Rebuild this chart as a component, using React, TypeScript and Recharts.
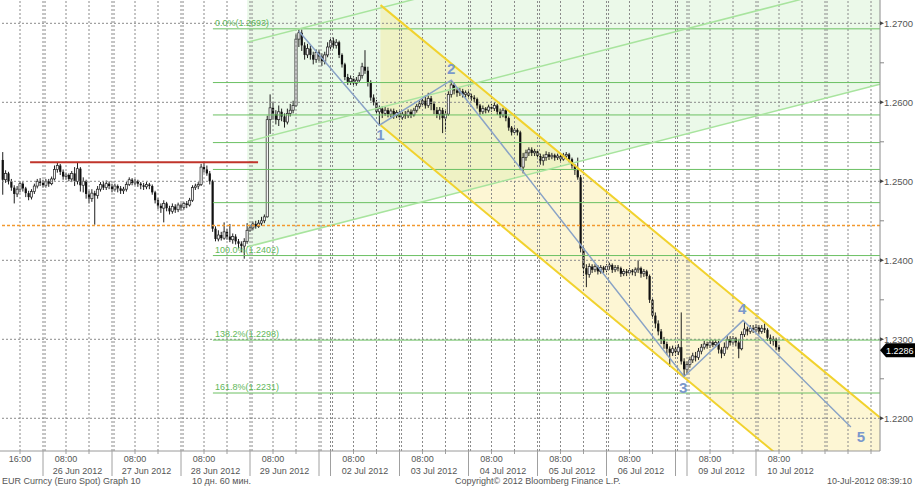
import React from "react";
import { ComposedChart, XAxis, YAxis, Bar, Line, Area, ReferenceLine, LabelList } from "recharts";

// EUR/USD (EUR Curncy) hourly candles, 25 Jun - 10 Jul 2012.
// Prices are pips above 1.2000 (524 -> 1.2524); each bar is [open, high, low, close].
// x is a trading-hour index: 0 = 26 Jun 00:00, weekends squeezed out (Sunday evening session kept).

const JUN25 = [
  [527, 537, 483, 502], [502, 514, 498, 510], [510, 512, 496, 500], [500, 503, 488, 492],
  [492, 495, 472, 484], [484, 494, 480, 490], [490, 500, 486, 497], [497, 499, 487, 491],
  [491, 493, 480, 485], [485, 488, 476, 480], [480, 490, 477, 487], [487, 497, 484, 494],
  [494, 503, 491, 500], [500, 504, 494, 498],
];
const JUN26 = [
  [498, 502, 492, 495], [495, 503, 492, 500], [500, 503, 493, 497], [497, 506, 495, 503],
  [503, 520, 501, 515], [515, 524, 511, 520], [520, 522, 508, 512], [512, 515, 502, 506],
  [506, 511, 502, 508], [508, 510, 500, 503], [503, 513, 499, 510], [510, 518, 494, 500],
  [500, 524, 496, 516], [516, 518, 487, 495], [495, 505, 486, 500], [500, 502, 478, 484],
  [484, 488, 472, 478], [478, 490, 474, 485], [485, 488, 445, 482], [482, 494, 478, 490],
  [490, 499, 487, 496], [496, 500, 489, 492], [492, 501, 489, 497], [497, 500, 490, 494],
];
const JUN27 = [
  [494, 497, 486, 490], [490, 497, 487, 494], [494, 496, 486, 491], [491, 494, 484, 488],
  [488, 493, 484, 490], [490, 499, 487, 496], [496, 505, 494, 502], [502, 504, 495, 498],
  [498, 503, 495, 500], [500, 502, 493, 497], [497, 499, 490, 495], [495, 498, 489, 493],
  [493, 499, 490, 496], [496, 498, 490, 494], [494, 496, 483, 486], [486, 488, 472, 476],
  [476, 479, 465, 469], [469, 472, 460, 466], [466, 476, 448, 472], [472, 474, 462, 466],
  [466, 469, 458, 462], [462, 472, 459, 468], [468, 471, 460, 464], [464, 473, 461, 470],
];
const JUN28 = [
  [470, 472, 463, 467], [467, 474, 464, 472], [472, 475, 466, 470], [470, 479, 468, 476],
  [476, 495, 474, 492], [492, 497, 489, 494], [494, 499, 490, 496], [496, 522, 494, 518],
  [518, 524, 511, 515], [515, 520, 507, 510], [510, 513, 496, 500], [500, 502, 436, 440],
  [440, 443, 424, 427], [427, 438, 424, 432], [432, 436, 425, 428], [428, 448, 426, 436],
  [436, 440, 426, 430], [430, 446, 423, 426], [426, 434, 421, 430], [430, 433, 420, 424],
  [424, 427, 415, 421], [421, 424, 410, 418], [418, 428, 402, 424], [424, 447, 421, 438],
];
const JUN29 = [
  [438, 445, 436, 441], [441, 449, 438, 446], [446, 450, 440, 443], [443, 451, 441, 447],
  [447, 455, 444, 450], [450, 458, 447, 455], [455, 583, 454, 578], [578, 610, 560, 593],
  [593, 600, 578, 585], [585, 590, 572, 578], [578, 596, 570, 588], [588, 592, 576, 582],
  [582, 586, 568, 575], [575, 592, 572, 586], [586, 598, 582, 590], [590, 602, 586, 596],
  [596, 686, 594, 680], [680, 693, 670, 688], [688, 692, 665, 672], [672, 676, 654, 660],
  [660, 674, 656, 668], [668, 672, 654, 660], [660, 664, 648, 654], [654, 667, 650, 663],
];
const JUL01_SUN = [
  [663, 666, 652, 658], [658, 662, 646, 652], [652, 664, 648, 660], [660, 676, 657, 670],
];
const JUL02 = [
  [670, 682, 667, 678], [678, 682, 668, 672], [672, 680, 668, 676], [676, 678, 656, 660],
  [660, 662, 644, 648], [648, 650, 628, 632], [632, 636, 622, 626], [626, 634, 622, 630],
  [630, 633, 620, 624], [624, 632, 621, 628], [628, 638, 625, 634], [634, 650, 630, 645],
  [645, 666, 636, 640], [640, 645, 620, 625], [625, 628, 602, 606], [606, 610, 596, 600],
  [600, 603, 584, 588], [588, 596, 571, 592], [592, 595, 580, 586], [586, 594, 583, 590],
  [590, 593, 581, 585], [585, 592, 581, 589], [589, 592, 579, 583], [583, 590, 580, 587],
];
const JUL03 = [
  [587, 590, 578, 581], [581, 588, 578, 585], [585, 589, 579, 583], [583, 591, 580, 588],
  [588, 591, 580, 584], [584, 593, 582, 590], [590, 598, 587, 595], [595, 602, 592, 598],
  [598, 606, 595, 602], [602, 609, 592, 596], [596, 612, 593, 605], [605, 608, 590, 598],
  [598, 601, 585, 590], [590, 594, 580, 585], [585, 594, 578, 590], [590, 593, 561, 580],
  [580, 590, 563, 585], [585, 614, 583, 610], [610, 628, 606, 622], [622, 625, 610, 615],
  [615, 618, 607, 612], [612, 618, 608, 614], [614, 617, 606, 610], [610, 615, 606, 612],
];
const JUL04 = [
  [612, 614, 604, 608], [608, 611, 602, 606], [606, 609, 600, 604], [604, 606, 592, 596],
  [596, 598, 584, 588], [588, 596, 585, 592], [592, 594, 586, 590], [590, 597, 587, 594],
  [594, 598, 588, 592], [592, 600, 589, 596], [596, 598, 584, 588], [588, 592, 580, 584],
  [584, 593, 581, 590], [590, 592, 576, 580], [580, 582, 564, 568], [568, 570, 558, 562],
  [562, 568, 559, 565], [565, 567, 558, 562], [562, 564, 514, 518], [518, 536, 510, 530],
  [530, 540, 526, 536], [536, 543, 532, 540], [540, 543, 532, 536], [536, 541, 532, 538],
];
const JUL05 = [
  [538, 540, 528, 532], [532, 535, 521, 526], [526, 534, 520, 530], [530, 538, 526, 534],
  [534, 537, 527, 531], [531, 536, 528, 533], [533, 535, 526, 530], [530, 535, 527, 532],
  [532, 534, 524, 528], [528, 536, 526, 532], [532, 537, 529, 534], [534, 536, 524, 528],
  [528, 530, 516, 520], [520, 522, 508, 514], [514, 530, 502, 505], [505, 508, 410, 415],
  [415, 418, 380, 390], [390, 395, 366, 382], [382, 396, 378, 392], [392, 395, 384, 388],
  [388, 395, 385, 392], [392, 394, 382, 386], [386, 394, 383, 391], [391, 393, 384, 388],
];
const JUL06 = [
  [388, 395, 385, 392], [392, 397, 388, 394], [394, 396, 384, 388], [388, 394, 385, 391],
  [391, 394, 386, 390], [390, 392, 379, 383], [383, 389, 380, 386], [386, 389, 380, 384],
  [384, 390, 381, 387], [387, 389, 381, 385], [385, 391, 380, 388], [388, 400, 384, 390],
  [390, 392, 378, 383], [383, 389, 379, 386], [386, 388, 376, 380], [380, 382, 346, 350],
  [350, 352, 326, 330], [330, 334, 314, 320], [320, 324, 305, 310], [310, 313, 294, 300],
  [300, 303, 288, 294], [294, 297, 280, 288], [288, 291, 265, 283], [283, 292, 279, 288],
];
const JUL08_SUN = [
  [288, 291, 279, 284], [284, 294, 280, 290], [290, 334, 268, 272], [272, 276, 253, 262],
];
const JUL09 = [
  [262, 272, 256, 268], [268, 278, 264, 274], [274, 283, 270, 279], [279, 284, 272, 277],
  [277, 289, 274, 285], [285, 294, 281, 290], [290, 298, 287, 294], [294, 297, 288, 292],
  [292, 299, 289, 296], [296, 299, 290, 293], [293, 299, 290, 296], [296, 298, 282, 287],
  [287, 290, 276, 282], [282, 296, 279, 290], [290, 304, 287, 300], [300, 304, 292, 296],
  [296, 304, 293, 301], [301, 303, 291, 296], [296, 299, 276, 288], [288, 310, 286, 306],
  [306, 322, 303, 313], [313, 316, 305, 310], [310, 318, 307, 314], [314, 318, 308, 312],
];
const JUL10 = [
  [312, 319, 309, 315], [315, 318, 306, 310], [310, 318, 307, 314], [314, 320, 308, 312],
  [312, 314, 298, 302], [302, 306, 294, 298], [298, 304, 292, 300], [300, 302, 286, 290],
  [290, 293, 284, 286],
];

// first hour index of each block of bars
const SESSIONS: [number, number[][]][] = [
  [-14, JUN25], [0, JUN26], [24, JUN27], [48, JUN28], [72, JUN29], [96, JUL01_SUN],
  [100, JUL02], [124, JUL03], [148, JUL04], [172, JUL05], [196, JUL06], [220, JUL08_SUN],
  [224, JUL09], [248, JUL10],
];

// Elliott wave count drawn on the chart
const WAVE = [
  { h: 89, p: 690, tag: "" },
  { h: 117, p: 571, tag: "1" },
  { h: 142, p: 628, tag: "2" },
  { h: 223, p: 253, tag: "3" },
  { h: 243.5, p: 324, tag: "4" },
  { h: 281, p: 189, tag: "5" },
];

// Fibonacci levels (start hour 59, running to the right edge)
const FIB_LEVELS = [625, 584, 549, 515, 473];
const FIB_LABELLED = [
  { p: 693, text: "0.0%(1.2693)" },
  { p: 406, text: "100.0%(1.2402)" },
  { p: 299, text: "138.2%(1.2298)" },
  { p: 232, text: "161.8%(1.2231)" },
];

// descending yellow channel
const YELLOW_UPPER = [{ h: 117.4, p: 723 }, { h: 291.1, p: 201 }];
const YELLOW_LOWER = [{ h: 117.4, p: 571 }, { h: 291.1, p: 46 }];
// rising green lines
const GREEN_LOW = [{ h: 71, p: 417 }, { h: 291.1, p: 623 }];
const GREEN_MID = [{ h: 71, p: 550 }, { h: 291.1, p: 756 }];
const GREEN_TOP = [{ h: 71, p: 676 }, { h: 291.1, p: 882 }];

const RED_LEVEL = [{ h: -4.5, p: 524 }, { h: 74.8, p: 524 }];
const ORANGE_LEVEL = 444;
const LAST_PRICE = 286;

const Y_MAJOR = [200, 300, 400, 500, 600, 700];
const Y_MINOR = [250, 350, 450, 550, 650];

const DAY_LABELS = [
  { start: 0, text: "26 Jun 2012" }, { start: 24, text: "27 Jun 2012" },
  { start: 48, text: "28 Jun 2012" }, { start: 72, text: "29 Jun 2012" },
  { start: 100, text: "02 Jul 2012" }, { start: 124, text: "03 Jul 2012" },
  { start: 148, text: "04 Jul 2012" }, { start: 172, text: "05 Jul 2012" },
  { start: 196, text: "06 Jul 2012" }, { start: 224, text: "09 Jul 2012" },
  { start: 248, text: "10 Jul 2012" },
];
const TIME_LABELS = [
  { h: -8, text: "16:00" }, { h: 8, text: "08:00" }, { h: 32, text: "08:00" },
  { h: 56, text: "08:00" }, { h: 80, text: "08:00" }, { h: 108, text: "08:00" },
  { h: 132, text: "08:00" }, { h: 156, text: "08:00" }, { h: 180, text: "08:00" },
  { h: 204, text: "08:00" }, { h: 232, text: "08:00" }, { h: 256, text: "08:00" },
];
const BREAKS = [0, 24, 48, 72, 96, 100, 124, 148, 172, 196, 220, 224, 248, 272];
const GRID8 = [-8, 8, 16, 32, 40, 56, 64, 80, 88, 108, 116, 132, 140, 156, 164, 180, 188, 204, 212, 232, 240, 256, 264, 280, 288];

const FONT = "'Liberation Sans', Arial, sans-serif";
const fmt = (p: number) => (1.2 + p / 10000).toFixed(4);

const candles = SESSIONS.flatMap(([start, bars]) =>
  bars.map(([o, hi, lo, c], i) => ({ h: start + i, o, hi, lo, c, range: [lo, hi] }))
);

const xTicks = Array.from(
  new Set([...GRID8, ...BREAKS, ...DAY_LABELS.map((d) => d.start + 12)])
).sort((a, b) => a - b);

function Candle(props: any) {
  const { x, y, width, height, payload } = props;
  if (y == null || !payload) return null;
  const { o, hi, lo, c } = payload;
  const k = hi === lo ? 0 : height / (hi - lo);
  const yo = y + (hi - o) * k;
  const yc = y + (hi - c) * k;
  const cx = x + width / 2;
  const top = Math.min(yo, yc);
  const bh = Math.max(1, Math.abs(yo - yc));
  const up = c >= o;
  return (
    <g>
      <line x1={cx} x2={cx} y1={y} y2={y + height} stroke="#1e1e1e" strokeWidth={1} />
      <rect
        x={cx - 1.1}
        y={top}
        width={2.2}
        height={bh}
        fill={up ? "#f4f4f4" : "#111"}
        stroke="#222"
        strokeWidth={up ? 0.7 : 0}
      />
    </g>
  );
}

function XTick({ x, y, payload }: any) {
  const v = payload.value;
  const time = TIME_LABELS.find((t) => t.h === v);
  const day = DAY_LABELS.find((d) => d.start + 12 === v);
  return (
    <g>
      {BREAKS.includes(v) && v < 260 ? (
        <line x1={x} x2={x} y1={y} y2={y + 25} stroke="#a0a0a0" />
      ) : GRID8.includes(v) || BREAKS.includes(v) ? (
        <line x1={x} x2={x} y1={y} y2={y + 3} stroke="#a0a0a0" />
      ) : null}
      {time && (
        <text x={x} y={y + 11} textAnchor="middle" fontSize={9} fill="#555" fontFamily={FONT}>
          {time.text}
        </text>
      )}
      {day && (
        <text x={x} y={y + 23} textAnchor="middle" fontSize={9} fill="#555" fontFamily={FONT}>
          {day.text}
        </text>
      )}
    </g>
  );
}

function YTick({ x, y, payload }: any) {
  const v = payload.value;
  if (v === LAST_PRICE) {
    return (
      <g>
        <polygon
          points={`${x},${y} ${x + 6},${y - 7} ${x + 35},${y - 7} ${x + 35},${y + 7} ${x + 6},${y + 7}`}
          fill="#000"
        />
        <text x={x + 6} y={y + 3.5} fontSize={9} fill="#fff" fontFamily={FONT}>
          {fmt(v)}
        </text>
      </g>
    );
  }
  if (Y_MINOR.includes(v)) {
    return <line x1={x} x2={x + 4} y1={y} y2={y} stroke="#888" />;
  }
  return (
    <g>
      <polygon points={`${x},${y - 2} ${x + 4},${y} ${x},${y + 2}`} fill="#444" />
      <text x={x + 4} y={y + 3.5} fontSize={9.5} fill="#555" fontFamily={FONT}>
        {fmt(v)}
      </text>
    </g>
  );
}

function WaveLabel(props: any) {
  const { x, y, value } = props;
  if (!value) return null;
  const off: Record<string, [number, number]> = {
    "1": [1, 15], "2": [0, -6], "3": [-1, 17], "4": [-1, -6], "5": [10, 15],
  };
  const [dx, dy] = off[value] || [0, 0];
  return (
    <text x={x + dx} y={y + dy} textAnchor="middle" fontSize={15} fontWeight="bold" fill="#7a98cc" fontFamily={FONT}>
      {value}
    </text>
  );
}

function FibLabel(props: any) {
  const { x, y, value } = props;
  if (!value) return null;
  return (
    <text x={x + 2} y={y - 3} fontSize={9} fill="#62b85a" fontFamily={FONT}>
      {value}
    </text>
  );
}

const gridStyle = { stroke: "#8a8a8a", strokeDasharray: "2 2", strokeWidth: 1 };
const plain = { dot: false, activeDot: false, isAnimationActive: false } as const;

export default function App() {
  return (
    <div style={{ position: "absolute", left: 0, top: 0, width: 915, height: 488, background: "#fff", overflow: "hidden" }}>
      <ComposedChart width={915} height={488} data={candles} margin={{ top: 0, right: 0, bottom: 0, left: 0 }}>
        <XAxis
          dataKey="h"
          type="number"
          domain={[-14.96, 291.13]}
          allowDataOverflow
          ticks={xTicks}
          interval={0}
          height={37}
          tickSize={0}
          tickMargin={0}
          tickLine={false}
          axisLine={{ stroke: "#9a9a9a" }}
          tick={<XTick />}
        />
        <YAxis
          type="number"
          orientation="right"
          domain={[158.6, 729.5]}
          allowDataOverflow
          ticks={[...Y_MAJOR, ...Y_MINOR, LAST_PRICE].sort((a, b) => a - b)}
          interval={0}
          width={35}
          tickSize={0}
          tickMargin={0}
          tickLine={false}
          axisLine={{ stroke: "#8a8a8a" }}
          tick={<YTick />}
        />

        <Area
          data={[{ h: 71, v: [417, 760] }, { h: 291.1, v: [623, 760] }]}
          dataKey="v"
          stroke="none"
          fill="#9be08f"
          fillOpacity={0.2}
          activeDot={false}
          isAnimationActive={false}
        />
        <Area
          data={[{ h: 117.4, v: [571, 723] }, { h: 291.1, v: [46, 201] }]}
          dataKey="v"
          stroke="none"
          fill="#f9e27a"
          fillOpacity={0.32}
          activeDot={false}
          isAnimationActive={false}
        />

        {Y_MAJOR.map((v) => (
          <ReferenceLine key={"gy" + v} y={v} {...gridStyle} />
        ))}
        {GRID8.map((v) => (
          <ReferenceLine key={"gx" + v} x={v} {...gridStyle} />
        ))}
        {BREAKS.flatMap((v) => [
          <ReferenceLine key={"ba" + v} x={v} {...gridStyle} />,
          <ReferenceLine key={"bb" + v} x={v + 0.7} {...gridStyle} />,
        ])}

        {FIB_LEVELS.map((p) => (
          <Line key={"f" + p} data={[{ h: 59.1, p }, { h: 291.1, p }]} dataKey="p" stroke="#6cc063" strokeWidth={1} {...plain} />
        ))}
        {FIB_LABELLED.map((f) => (
          <Line
            key={"fl" + f.p}
            data={[{ h: 59.1, p: f.p, label: f.text }, { h: 291.1, p: f.p, label: "" }]}
            dataKey="p"
            stroke="#6cc063"
            strokeWidth={1}
            {...plain}
          >
            <LabelList dataKey="label" content={<FibLabel />} />
          </Line>
        ))}

        {[GREEN_LOW, GREEN_MID, GREEN_TOP].map((d, i) => (
          <Line key={"g" + i} data={d} dataKey="p" stroke="#a8e49e" strokeWidth={1.5} {...plain} />
        ))}
        {[YELLOW_UPPER, YELLOW_LOWER].map((d, i) => (
          <Line key={"y" + i} data={d} dataKey="p" stroke="#f1d22e" strokeWidth={2} {...plain} />
        ))}

        <ReferenceLine y={ORANGE_LEVEL} stroke="#f29a30" strokeDasharray="3 2" strokeWidth={1.5} />
        <Line data={RED_LEVEL} dataKey="p" stroke="#c0352b" strokeWidth={2} {...plain} />

        <Bar dataKey="range" barSize={2} shape={<Candle />} isAnimationActive={false} />

        <Line data={WAVE} dataKey="p" stroke="#8aa3c6" strokeWidth={1.5} {...plain}>
          <LabelList dataKey="tag" content={<WaveLabel />} />
        </Line>
      </ComposedChart>

      <div style={{ position: "absolute", top: 476, left: 2, fontSize: 9, color: "#555", fontFamily: FONT, whiteSpace: "nowrap" }}>
        EUR Curncy (Euro Spot) Graph 10
      </div>
      <div style={{ position: "absolute", top: 476, left: 192, fontSize: 9, color: "#555", fontFamily: FONT, whiteSpace: "nowrap" }}>
        10 дн. 60 мин.
      </div>
      <div style={{ position: "absolute", top: 476, left: 455, fontSize: 9, color: "#555", fontFamily: FONT, whiteSpace: "nowrap" }}>
        Copyright© 2012 Bloomberg Finance L.P.
      </div>
      <div style={{ position: "absolute", top: 476, right: 3, fontSize: 9, color: "#555", fontFamily: FONT, whiteSpace: "nowrap" }}>
        10-Jul-2012 08:39:10
      </div>
    </div>
  );
}
